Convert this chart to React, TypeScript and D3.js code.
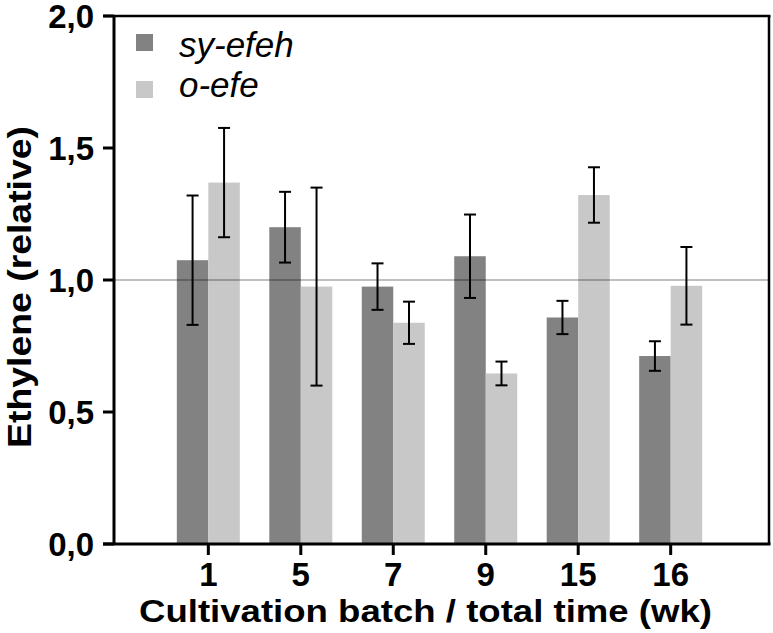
import React from "react";
import * as d3 from "d3";

const categories = ["1", "5", "7", "9", "15", "16"];
const seriesNames = ["sy-efeh", "o-efe"];
const syEfeh = [1.075, 1.2, 0.975, 1.09, 0.858, 0.712];
const syEfehErr = [0.245, 0.134, 0.088, 0.158, 0.063, 0.056];
const oEfe = [1.369, 0.975, 0.838, 0.646, 1.322, 0.978];
const oEfeErr = [0.207, 0.375, 0.08, 0.045, 0.105, 0.147];
const yTicks = [0, 0.5, 1.0, 1.5, 2.0];
const yTickLabels = ["0,0", "0,5", "1,0", "1,5", "2,0"];
const referenceValue = 1.0;

const W = 773;
const H = 633;
const left = 114;
const right = 769;
const top = 16;
const bottom = 544;
const colors = ["#828282", "#c8c8c8"];
const FONT = "'Liberation Sans', Arial, Helvetica, sans-serif";

export default function App() {
  const y = d3.scaleLinear().domain([0, 2]).range([bottom, top]);
  const x = d3
    .scaleBand<string>()
    .domain(categories)
    .range([left, 765])
    .paddingInner(0)
    .paddingOuter(0.52);
  const xs = d3
    .scaleBand<string>()
    .domain(seriesNames)
    .range([0, x.bandwidth()])
    .paddingInner(0)
    .paddingOuter(0.468);

  const series = [
    { name: seriesNames[0], values: syEfeh, errs: syEfehErr, color: colors[0] },
    { name: seriesNames[1], values: oEfe, errs: oEfeErr, color: colors[1] },
  ];
  const cap = 6;

  return (
    <svg
      width={W}
      height={H}
      style={{ position: "absolute", left: 0, top: 0, background: "#fff" }}
      fontFamily={FONT}
    >
      <rect x={0} y={0} width={W} height={H} fill="#fff" />
      {series.map((s) =>
        categories.map((c, i) => (
          <rect
            key={s.name + c}
            x={(x(c) as number) + (xs(s.name) as number)}
            y={y(s.values[i])}
            width={xs.bandwidth()}
            height={y(0) - y(s.values[i])}
            fill={s.color}
          />
        ))
      )}
      <line
        x1={left}
        x2={right}
        y1={y(referenceValue)}
        y2={y(referenceValue)}
        stroke="#000"
        strokeOpacity={0.25}
        strokeWidth={2.2}
      />
      {series.map((s) =>
        categories.map((c, i) => {
          const cx = (x(c) as number) + (xs(s.name) as number) + xs.bandwidth() / 2;
          const y1 = y(s.values[i] + s.errs[i]);
          const y2 = y(s.values[i] - s.errs[i]);
          return (
            <g key={"e" + s.name + c} stroke="#000" strokeWidth={2}>
              <line x1={cx} x2={cx} y1={y1} y2={y2} />
              <line x1={cx - cap} x2={cx + cap} y1={y1} y2={y1} />
              <line x1={cx - cap} x2={cx + cap} y1={y2} y2={y2} />
            </g>
          );
        })
      )}
      <g stroke="#000" fill="none">
        <line x1={left} x2={left} y1={top - 1} y2={bottom + 1} strokeWidth={3} />
        <line x1={103} x2={right + 1.5} y1={bottom} y2={bottom} strokeWidth={3} />
        <line x1={103} x2={right + 1.5} y1={top} y2={top} strokeWidth={2.5} />
        <line x1={right} x2={right} y1={top} y2={bottom} strokeWidth={2.5} />
      </g>
      {yTicks.map((t, i) => (
        <g key={"yt" + t}>
          <line x1={103} x2={left} y1={y(t)} y2={y(t)} stroke="#000" strokeWidth={3} />
          <text
            x={94}
            y={y(t)}
            dy="0.36em"
            textAnchor="end"
            fontSize={33}
            fontWeight="bold"
          >
            {yTickLabels[i]}
          </text>
        </g>
      ))}
      {categories.map((c) => {
        const cx = (x(c) as number) + x.bandwidth() / 2;
        return (
          <g key={"xt" + c}>
            <line x1={cx} x2={cx} y1={bottom} y2={555} stroke="#000" strokeWidth={3} />
            <text x={cx} y={586} textAnchor="middle" fontSize={33} fontWeight="bold">
              {c}
            </text>
          </g>
        );
      })}
      <text
        x={425.5}
        y={621.5}
        textAnchor="middle"
        fontSize={32}
        fontWeight="bold"
        textLength={573}
        lengthAdjust="spacingAndGlyphs"
      >
        Cultivation batch / total time (wk)
      </text>
      <text
        transform={`translate(31,${287}) rotate(-90)`}
        textAnchor="middle"
        fontSize={34}
        fontWeight="bold"
        textLength={322}
        lengthAdjust="spacingAndGlyphs"
      >
        Ethylene (relative)
      </text>
      {series.map((s, i) => (
        <g key={"lg" + s.name}>
          <rect x={136} y={34 + i * 47} width={17} height={17} fill={s.color} />
          <text x={179} y={56.5 + i * 40.5} fontSize={35} fontStyle="italic">
            {s.name}
          </text>
        </g>
      ))}
    </svg>
  );
}
